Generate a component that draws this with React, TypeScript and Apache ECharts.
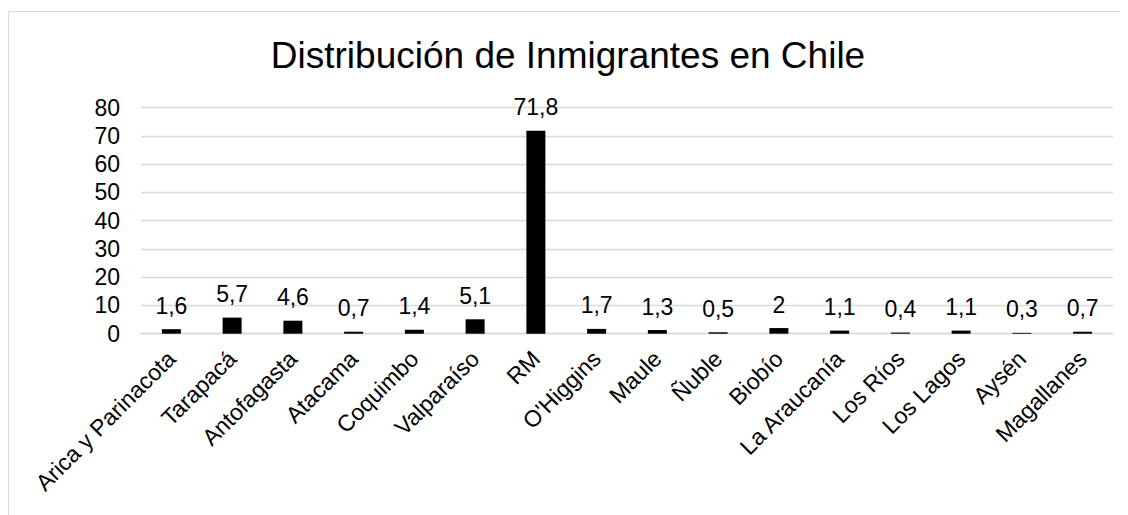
import React, { useEffect, useRef } from "react";
import * as echarts from "echarts";

const categories = [
  "Arica y Parinacota", "Tarapacá", "Antofagasta", "Atacama", "Coquimbo", "Valparaíso",
  "RM", "O'Higgins", "Maule", "Ñuble", "Biobío", "La Araucanía", "Los Ríos", "Los Lagos",
  "Aysén", "Magallanes",
];
const values = [1.6, 5.7, 4.6, 0.7, 1.4, 5.1, 71.8, 1.7, 1.3, 0.5, 2, 1.1, 0.4, 1.1, 0.3, 0.7];
const titleText = "Distribución de Inmigrantes en Chile";

const FONT = "Liberation Sans, Arial, sans-serif";

export default function App() {
  const ref = useRef<HTMLDivElement>(null);
  useEffect(() => {
    if (!ref.current) return;
    const chart = echarts.init(ref.current, undefined, { renderer: "svg" });
    chart.setOption({
      animation: false,
      backgroundColor: "#fff",
      title: {
        text: titleText,
        left: "center",
        top: 29,
        padding: 0,
        textStyle: { fontFamily: FONT, fontSize: 37, fontWeight: "normal", color: "#000" },
      },
      graphic: [
        {
          type: "rect",
          shape: { x: 0.5, y: 3.5, width: 1300, height: 700 },
          style: { fill: "none", stroke: "#d9d9d9", lineWidth: 1 },
          silent: true,
        },
      ],
      grid: { left: 133, right: 15, top: 99.7, bottom: 181.3, containLabel: false },
      xAxis: {
        type: "category",
        data: categories,
        axisLine: { show: true, lineStyle: { color: "#d9d9d9", width: 1.3 } },
        axisTick: { show: false },
        axisLabel: {
          rotate: 45,
          interval: 0,
          margin: 21,
          fontFamily: FONT,
          fontSize: 23,
          color: "#000",
        },
      },
      yAxis: {
        type: "value",
        min: 0,
        max: 80,
        interval: 10,
        axisLine: { show: false },
        axisTick: { show: false },
        splitLine: { show: true, lineStyle: { color: "#d9d9d9", width: 1.3 } },
        axisLabel: { margin: 21, fontFamily: FONT, fontSize: 23, color: "#000" },
      },
      series: [
        {
          type: "bar",
          data: values,
          barWidth: 19,
          itemStyle: { color: "#000" },
          label: {
            show: true,
            position: "top",
            distance: 12,
            fontFamily: FONT,
            fontSize: 23,
            color: "#000",
            formatter: (p: any) => String(p.value).replace(".", ","),
          },
        },
      ],
    });
    return () => chart.dispose();
  }, []);
  return <div ref={ref} style={{ width: 1120, height: 507 }} />;
}
